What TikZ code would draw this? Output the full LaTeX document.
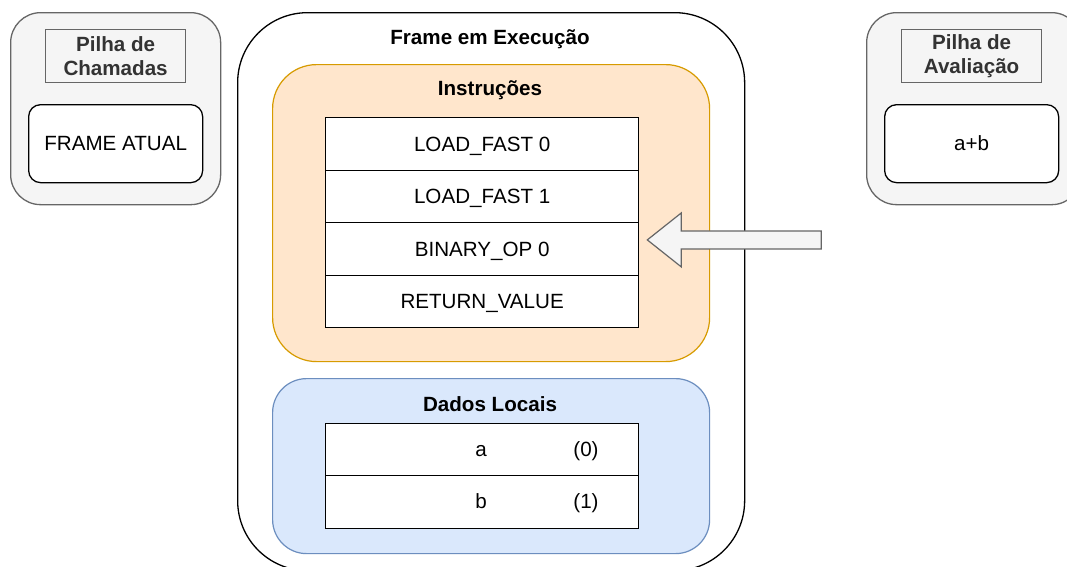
\documentclass[tikz,border=0pt]{standalone}
\usepackage{fontspec}
\setmainfont{Liberation Sans}
\usetikzlibrary{positioning}
\definecolor{panelfill}{HTML}{F5F5F5}
\definecolor{panelline}{HTML}{666666}
\definecolor{titletext}{HTML}{333333}
\definecolor{instrfill}{HTML}{FFE6CC}
\definecolor{instrline}{HTML}{D79B00}
\definecolor{datafill}{HTML}{DAE8FC}
\definecolor{dataline}{HTML}{6C8EBF}
\tikzset{
  box/.style={draw, inner sep=0pt, anchor=north west, line width=1.3pt},
  panel/.style={box, fill=panelfill, draw=panelline, rounded corners=30pt},
  label box/.style={box, draw=panelline, line width=1.2pt, text=titletext,
    font=\fontsize{20.6}{24.5}\selectfont\bfseries, align=center},
  oneline/.style={text height=15pt, text depth=0.5pt},
  item/.style={box, fill=white, rounded corners=12pt, font=\fontsize{20.6}{24}\selectfont, oneline},
  cell/.style={box, fill=white, minimum width=313pt, minimum height=52.5pt,
    font=\fontsize{20.6}{24}\selectfont, oneline},
  heading/.style={font=\fontsize{20.6}{24}\selectfont\bfseries, inner sep=0pt, oneline},
  plain/.style={font=\fontsize{20.6}{24}\selectfont, inner sep=0pt, oneline},
}
\begin{document}
\begin{tikzpicture}[x=1pt,y=-1pt]
\useasboundingbox (0,0) rectangle (1067,566);
\clip (0,0) rectangle (1067,566);

% call stack
\node[panel, minimum width=210pt, minimum height=192pt] (calls) at (10,12) {};
\node[label box, minimum width=140pt, minimum height=53pt] (callsT) at (45,29) {Pilha de\\Chamadas};
\node[item, minimum width=174pt, minimum height=78pt] (cur) at (28,104) {FRAME ATUAL};

% evaluation stack
\node[panel, minimum width=215pt, minimum height=192pt] (eval) at (866,12) {};
\node[label box, minimum width=140pt, minimum height=53pt] (evalT) at (901,29) {Pilha de\\Avaliação};
\node[item, minimum width=174pt, minimum height=78pt] (top) at (884,104) {a+b};

% running frame
\node[box, fill=white, rounded corners=70pt, minimum width=507pt, minimum height=558pt] (frame) at (237,12) {};
\node[heading] (frameT) at (490,37) {Frame em Execução};

% instructions
\node[box, fill=instrfill, draw=instrline, line width=1.2pt, rounded corners=44pt,
  minimum width=437pt, minimum height=297pt] (instr) at (272,64) {};
\node[heading] (instrT) at (490,88) {Instruções};
\node[cell] (i0) at (325,117) {LOAD\_FAST 0};
\node[cell] (i1) at (325,169.5) {LOAD\_FAST 1};
\node[cell] (i2) at (325,222) {BINARY\_OP 0};
\node[cell] (i3) at (325,274.5) {RETURN\_VALUE};

% local data
\node[box, fill=datafill, draw=dataline, line width=1.2pt, rounded corners=34pt,
  minimum width=437pt, minimum height=175pt] (data) at (272,378) {};
\node[heading] (dataT) at (490,404) {Dados Locais};
\node[cell] (d0) at (325,422.5) {};
\node[cell] (d1) at (325,475) {};
\node[plain] (d0n) at (481,449) {a};
\node[plain] (d0i) at (586,449) {(0)};
\node[plain] (d1n) at (481,501) {b};
\node[plain] (d1i) at (586,501) {(1)};

% pointer to the current instruction
\coordinate (tip) at ([xshift=8pt,yshift=9pt]i2.east);
\draw[fill=panelfill, draw=panelline, line width=1.2pt, line join=miter]
  (tip) -- ++(34,-27) -- ++(0,18) -- ++(140,0) -- ++(0,18) -- ++(-140,0)
  -- ++(0,18) -- cycle;
\end{tikzpicture}
\end{document}
